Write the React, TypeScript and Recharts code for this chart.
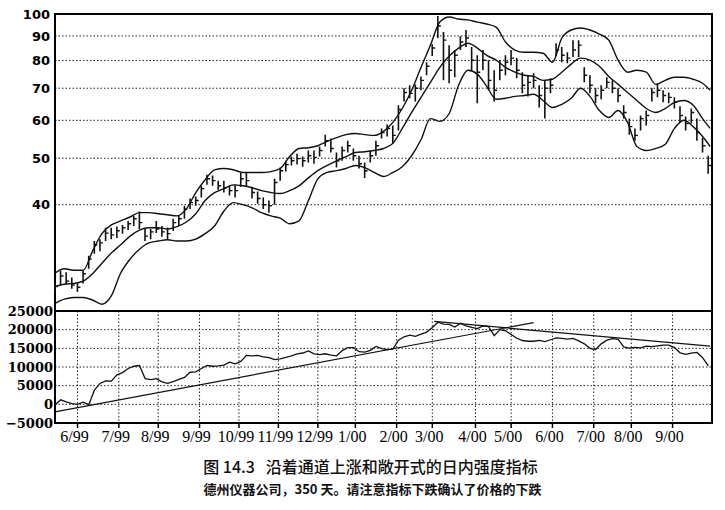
import React from 'react';
import { ComposedChart, Bar, Line, XAxis, YAxis, CartesianGrid, ReferenceArea } from 'recharts';

// trading-day index of each sample (price bars every 3 days, bands every 5 days)
const STEP = 3;
const BAND_STEP = 5;
const LAST_DAY = 349;

const monthTicks = [12, 34, 55, 77, 98, 119, 140, 160, 182, 201, 224, 243, 265, 287, 307, 329];
const monthLabels = ['6/99', '7/99', '8/99', '9/99', '10/99', '11/99', '12/99', '1/00', '2/00', '3/00', '4/00', '5/00', '6/00', '7/00', '8/00', '9/00'];

const priceTicks = [40, 50, 60, 70, 80, 90, 100];
const indicatorTicks = [-5000, 0, 5000, 10000, 15000, 20000, 25000];

const highs = [
  27.7, 29.1, 28.9, 28.2, 27.6, 29.1, 31.3, 33.6, 33.9, 35.8,
  35.8, 36.0, 36.3, 37.0, 37.9, 38.7, 35.6, 35.6, 37.0, 36.1,
  35.8, 37.4, 37.9, 39.8, 41.2, 41.6, 43.8, 46.2, 46.0, 44.9,
  44.9, 43.8, 44.0, 46.7, 46.7, 43.6, 42.6, 41.4, 40.8, 45.3,
  47.8, 49.4, 50.4, 51.1, 50.4, 51.9, 51.9, 52.9, 56.0, 55.0,
  51.4, 52.9, 54.4, 52.4, 50.6, 49.0, 51.9, 54.4, 57.7, 58.8,
  58.5, 64.5, 70.0, 71.0, 71.3, 74.1, 79.3, 86.5, 99.0, 91.7,
  86.1, 84.1, 89.9, 92.6, 85.3, 82.0, 84.1, 80.1, 76.3, 80.1,
  82.0, 84.1, 80.9, 75.6, 74.5, 75.2, 71.0, 72.7, 73.4, 86.9,
  85.3, 83.2, 88.2, 88.2, 77.4, 74.5, 70.0, 71.0, 73.8, 72.7,
  70.0, 64.5, 60.5, 57.7, 61.4, 62.9, 70.0, 71.7, 69.3, 68.6,
  67.0, 64.2, 61.1, 63.5, 60.5, 55.2, 50.6,
];

const lows = [
  26.1, 27.2, 27.3, 26.7, 26.3, 27.4, 29.4, 31.6, 32.0, 33.6,
  33.9, 34.1, 34.8, 35.4, 36.1, 35.6, 33.6, 33.9, 34.9, 34.3,
  33.9, 35.3, 36.1, 37.4, 39.2, 39.8, 41.4, 44.0, 43.8, 43.0,
  42.4, 41.8, 41.4, 43.6, 43.6, 41.2, 40.2, 39.2, 38.5, 40.0,
  44.9, 46.9, 48.3, 48.5, 48.0, 49.0, 48.7, 50.4, 52.9, 51.4,
  47.8, 49.4, 51.4, 49.4, 47.6, 45.5, 49.0, 50.6, 55.0, 55.5,
  53.7, 57.1, 65.7, 66.7, 65.7, 69.3, 74.5, 81.7, 89.1, 72.7,
  71.7, 73.8, 84.1, 85.3, 76.3, 65.1, 76.3, 69.3, 65.7, 72.7,
  74.5, 78.2, 73.4, 68.3, 67.3, 70.0, 63.8, 60.5, 68.3, 81.7,
  79.3, 78.9, 81.3, 81.3, 72.0, 68.3, 65.1, 66.4, 70.0, 68.3,
  65.4, 60.5, 56.0, 54.4, 57.1, 58.5, 65.7, 67.0, 65.4, 65.1,
  63.5, 59.4, 57.1, 59.1, 54.4, 51.4, 46.4,
];

const closes = [
  27.0, 28.4, 27.7, 27.2, 26.9, 28.7, 30.8, 33.0, 33.3, 34.9,
  34.6, 35.3, 35.8, 36.5, 37.4, 36.7, 34.4, 35.1, 35.6, 35.1,
  34.8, 36.7, 37.4, 39.2, 40.4, 40.8, 43.2, 45.3, 44.9, 43.8,
  43.4, 42.8, 42.8, 45.3, 44.9, 42.4, 41.2, 40.0, 39.8, 44.5,
  47.1, 48.5, 49.4, 49.9, 49.4, 50.6, 50.2, 51.9, 54.4, 52.4,
  49.4, 51.9, 53.1, 50.6, 48.7, 47.1, 50.6, 53.1, 56.6, 57.7,
  55.8, 63.2, 68.6, 68.3, 70.0, 72.7, 77.8, 84.9, 94.4, 88.2,
  76.3, 82.0, 87.4, 89.1, 80.1, 75.6, 80.1, 72.7, 69.3, 76.3,
  79.3, 80.9, 76.3, 71.0, 72.0, 72.7, 67.6, 70.0, 71.0, 84.1,
  82.0, 80.9, 84.1, 86.1, 74.5, 71.0, 67.6, 69.3, 72.0, 70.0,
  67.6, 62.3, 58.2, 55.8, 60.5, 61.4, 68.6, 69.3, 67.6, 67.0,
  65.4, 61.4, 59.1, 62.3, 56.6, 53.1, 48.3,
];

const upperBand = [
  28.8, 29.4, 29.2, 29.2, 32.0, 34.8, 36.3, 37.0, 37.7, 38.5,
  38.5, 38.3, 38.1, 37.9, 39.2, 42.4, 45.1, 47.3, 47.6, 47.3,
  46.7, 46.7, 46.7, 46.9, 47.6, 50.4, 52.4, 52.6, 53.1, 54.2,
  55.2, 56.0, 56.3, 56.0, 55.8, 56.9, 59.4, 63.5, 69.3, 77.4,
  86.1, 96.2, 98.6, 97.6, 97.2, 96.2, 95.3, 93.9, 87.4, 84.1,
  83.2, 83.2, 82.8, 79.3, 89.1, 92.6, 93.5, 92.6, 90.8, 88.2,
  80.1, 75.6, 76.3, 75.6, 71.3, 72.7, 73.8, 73.8, 73.1, 71.7,
  69.3,
];

const middleBand = [
  27.0, 27.3, 27.4, 27.7, 28.7, 30.2, 31.7, 33.0, 34.4, 35.4,
  35.8, 35.8, 35.6, 36.0, 36.8, 38.3, 40.8, 42.4, 43.2, 44.0,
  43.8, 43.4, 42.8, 42.4, 42.2, 42.8, 43.8, 45.5, 47.1, 48.3,
  49.4, 50.4, 51.4, 51.6, 51.9, 52.4, 53.7, 57.7, 62.3, 67.0,
  72.0, 77.4, 81.7, 84.9, 86.9, 84.9, 82.0, 80.1, 77.4, 75.6,
  74.5, 74.1, 72.7, 73.1, 75.6, 78.6, 80.9, 80.1, 77.8, 74.1,
  71.3, 68.6, 66.0, 63.5, 62.3, 63.5, 65.4, 66.0, 64.5, 60.5,
  57.7,
];

const lowerBand = [
  24.9, 25.4, 25.6, 25.6, 25.3, 24.8, 25.8, 28.8, 30.8, 32.3,
  33.3, 33.6, 33.8, 33.6, 33.6, 33.9, 34.8, 36.1, 38.8, 40.4,
  40.0, 39.4, 38.5, 37.9, 37.5, 36.5, 37.0, 40.8, 45.3, 46.7,
  47.1, 47.6, 48.3, 47.8, 46.7, 45.8, 46.7, 48.0, 50.6, 54.7,
  60.5, 59.7, 62.0, 71.0, 76.3, 74.9, 70.6, 66.4, 66.7, 67.3,
  67.6, 68.0, 66.0, 63.8, 64.8, 66.7, 70.0, 67.3, 62.9, 60.8,
  62.9, 59.4, 52.9, 51.9, 52.4, 53.4, 57.7, 60.0, 58.2, 55.5,
  52.9,
];

// intraday intensity (cumulative)
const intraday = [
  -200, 1200, 650, 180, 0, 600, -100, 3800, 5600, 6300,
  6200, 7900, 8500, 9600, 10200, 10400, 6900, 6600, 6900, 6000,
  5600, 6100, 6700, 7200, 8600, 8700, 9600, 10400, 10200, 10300,
  10500, 11300, 10850, 11500, 13100, 13000, 13100, 12700, 12500, 12000,
  12200, 12600, 13000, 13500, 13750, 14300, 13500, 13300, 13550, 13200,
  13000, 14400, 15200, 15200, 14100, 14000, 14450, 15500, 14950, 14650,
  14800, 17200, 18100, 18550, 18200, 18800, 19350, 20600, 22000, 21500,
  21400, 20700, 21700, 21000, 20600, 20300, 21000, 20800, 18400, 20000,
  19700, 18700, 17700, 17100, 16900, 16900, 17150, 16800, 17300, 17800,
  17680, 17450, 17650, 17000, 16200, 15000, 14700, 16200, 17200, 17600,
  17400, 15400, 15050, 15250, 15100, 15600, 15480, 15650, 15850, 15860,
  15200, 13800, 13400, 13700, 13900, 12500, 10300,
];

const supportLine = [{ d: 0, v: -2000 }, { d: 255, v: 21900 }];
const resistanceLine = [{ d: 202, v: 22200 }, { d: LAST_DAY, v: 15600 }];

const priceRows = highs.map((hi, i) => ({ d: i * STEP, hi, lo: lows[i], close: closes[i] }));
const indicatorRows = intraday.map((v, i) => ({ d: i * STEP, v }));
const bandRows = upperBand.map((upper, i) => ({
  d: Math.min(i * BAND_STEP, LAST_DAY),
  upper,
  middle: middleBand[i],
  lower: lowerBand[i],
}));

const INK = '#111';

// high-low bar with a close tick on the right (close placed on the log scale between hi and lo)
const PriceBar = (props: any) => {
  const { x, y, width, height, payload } = props;
  if (!payload || x == null || y == null) return null;
  const top = Math.min(y, y + height);
  const bottom = Math.max(y, y + height);
  const cx = x + width / 2;
  const t = Math.log(payload.hi / payload.close) / Math.log(payload.hi / payload.lo);
  const cy = top + (bottom - top) * t;
  return (
    <g>
      <line x1={cx} x2={cx} y1={top} y2={bottom} stroke={INK} strokeWidth={1.6} />
      <line x1={cx} x2={cx + 3} y1={cy} y2={cy} stroke={INK} strokeWidth={1.4} />
    </g>
  );
};

const gridProps = { stroke: '#222', strokeDasharray: '1.5 2', strokeWidth: 1 };

const App: React.FC = () => {
  return (
    <div style={{ position: 'absolute', left: 0, top: 0, width: 725, height: 510, background: '#fff' }}>
      {/* price panel */}
      <div style={{ position: 'absolute', left: 0, top: 0 }}>
        <ComposedChart width={725} height={312} data={priceRows} margin={{ top: 14, right: 13, bottom: 1, left: 0 }}>
          <CartesianGrid {...gridProps} />
          <XAxis
            type="number"
            dataKey="d"
            domain={[0, 350]}
            ticks={monthTicks}
            height={0}
            tick={false}
            axisLine={false}
            tickLine={false}
          />
          <YAxis
            scale="log"
            domain={[24, 100]}
            ticks={priceTicks}
            allowDataOverflow
            interval={0}
            width={55}
            tickSize={0}
            tickMargin={5}
            axisLine={false}
            tick={{ fontFamily: 'DejaVu Sans', fontWeight: 'bold', fontSize: 13, fill: '#000' }}
          />
          <Bar dataKey={(r: any) => [r.lo, r.hi]} barSize={3} shape={PriceBar} isAnimationActive={false} />
          <Line data={bandRows} dataKey="upper" type="monotone" dot={false} stroke={INK} strokeWidth={1.4} isAnimationActive={false} />
          <Line data={bandRows} dataKey="middle" type="monotone" dot={false} stroke={INK} strokeWidth={1.4} isAnimationActive={false} />
          <Line data={bandRows} dataKey="lower" type="monotone" dot={false} stroke={INK} strokeWidth={1.4} isAnimationActive={false} />
          <ReferenceArea x1={0} x2={350} y1={24} y2={100} fill="none" stroke="#000" strokeWidth={2} ifOverflow="visible" />
        </ComposedChart>
      </div>

      {/* intraday intensity panel */}
      <div style={{ position: 'absolute', left: 0, top: 300 }}>
        <ComposedChart width={725} height={155} data={indicatorRows} margin={{ top: 11, right: 13, bottom: 0, left: 0 }}>
          <CartesianGrid {...gridProps} />
          <XAxis
            type="number"
            dataKey="d"
            domain={[0, 350]}
            ticks={monthTicks}
            interval={0}
            height={32}
            tickSize={5}
            tickMargin={3}
            axisLine={false}
            tickLine={{ stroke: '#000', strokeWidth: 1.5 }}
            tickFormatter={(d: number) => monthLabels[monthTicks.indexOf(d)]}
            tick={{ fontFamily: 'Liberation Serif', fontSize: 16, fill: '#000', dx: -3 }}
          />
          <YAxis
            domain={[-5000, 25000]}
            ticks={indicatorTicks}
            interval={0}
            width={55}
            tickSize={0}
            tickMargin={2}
            axisLine={false}
            tickFormatter={(v: number) => String(v).replace('-', '\u2212')}
            tick={{ fontFamily: 'DejaVu Serif', fontWeight: 'bold', fontSize: 13, fill: '#000' }}
          />
          <Line dataKey="v" type="linear" dot={false} stroke={INK} strokeWidth={1.3} isAnimationActive={false} />
          <Line data={supportLine} dataKey="v" type="linear" dot={false} stroke={INK} strokeWidth={1.2} isAnimationActive={false} />
          <Line data={resistanceLine} dataKey="v" type="linear" dot={false} stroke={INK} strokeWidth={1.2} isAnimationActive={false} />
          <ReferenceArea x1={0} x2={350} y1={-5000} y2={25000} fill="none" stroke="#000" strokeWidth={2} ifOverflow="visible" />
        </ComposedChart>
      </div>

      {/* caption */}
      <div
        style={{
          position: 'absolute',
          left: 8,
          top: 457,
          width: 725,
          textAlign: 'center',
          fontFamily: '"Noto Sans CJK SC"',
          fontSize: 16,
          fontWeight: 500,
          lineHeight: '18px',
          color: '#111',
          whiteSpace: 'pre',
        }}
      >
        {'图 14.3   沿着通道上涨和敞开式的日内强度指标'}
      </div>
      <div
        style={{
          position: 'absolute',
          left: 10,
          top: 481,
          width: 725,
          textAlign: 'center',
          fontFamily: '"Noto Sans CJK SC"',
          fontSize: 13,
          fontWeight: 700,
          lineHeight: '16px',
          color: '#111',
        }}
      >
        德州仪器公司，350 天。请注意指标下跌确认了价格的下跌
      </div>
    </div>
  );
};

export default App;
